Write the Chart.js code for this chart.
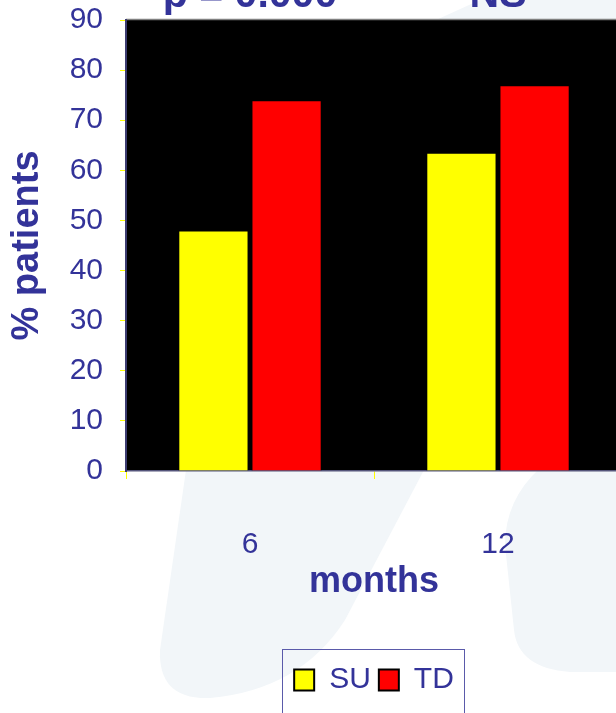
<!DOCTYPE html>
<html><head><meta charset="utf-8">
<script src="https://cdn.jsdelivr.net/npm/chart.js@4"></script>
<style>
html,body{margin:0;padding:0;background:#fff;overflow:hidden}
#wrap{width:616px;height:713px;overflow:hidden;position:relative}
canvas{display:block}
</style></head><body>
<div id="wrap"><canvas id="c" width="630" height="713" style="width:630px;height:713px"></canvas></div>
<script>
// ---- data ----
const categories = ['6', '12'];
const seriesNames = ['SU', 'TD'];
const suValues = [48, 63.5];
const tdValues = [74, 77];
const yTicks = [0, 10, 20, 30, 40, 50, 60, 70, 80, 90];
const topNotes = ['p = 0.000', 'NS'];
const xTitle = 'months';
const yTitle = '% patients';

const TEXT = '#333399';
const FONT = '"Liberation Sans", Arial, sans-serif';

const decoPlugin = {
  id: 'deco',
  beforeDraw(chart) {
    const ctx = chart.ctx, a = chart.chartArea;
    ctx.save();
    ctx.fillStyle = '#ffffff';
    ctx.fillRect(0, 0, chart.width, chart.height);
    // faint watermark shapes
    ctx.fillStyle = '#f2f6f9';
    ctx.beginPath();
    ctx.moveTo(480, 0); ctx.lineTo(640, 0); ctx.lineTo(640, 672);
    ctx.lineTo(570, 672);
    ctx.quadraticCurveTo(518, 668, 514, 630);
    ctx.lineTo(505, 545);
    ctx.quadraticCurveTo(505, 500, 540, 468);
    ctx.lineTo(436, 20);
    ctx.closePath(); ctx.fill();
    ctx.beginPath();
    ctx.moveTo(200, 300); ctx.lineTo(460, 300); ctx.lineTo(424, 470);
    ctx.lineTo(345, 620);
    ctx.quadraticCurveTo(300, 690, 210, 698);
    ctx.quadraticCurveTo(158, 700, 160, 650);
    ctx.lineTo(186, 470);
    ctx.closePath(); ctx.fill();
    // plot area
    ctx.fillStyle = '#000';
    ctx.fillRect(a.left, a.top, a.right - a.left, a.bottom - a.top);
    ctx.strokeStyle = '#808080';
    ctx.lineWidth = 1.5;
    ctx.beginPath(); ctx.moveTo(a.left, a.top - 0.5); ctx.lineTo(a.right, a.top - 0.5); ctx.stroke();
    ctx.restore();
  },
  afterDraw(chart) {
    const ctx = chart.ctx, xs = chart.scales.x;
    ctx.save();
    ctx.font = 'bold 41px ' + FONT;
    ctx.fillStyle = TEXT;
    ctx.textAlign = 'center';
    ctx.textBaseline = 'alphabetic';
    topNotes.forEach((t, i) => ctx.fillText(t, xs.getPixelForValue(i), 7));
    const hb = chart.legend.legendHitBoxes;
    if (hb && hb.length) {
      const l = hb[0].left - 12;
      const last = hb[hb.length - 1];
      const r = last.left + last.width + 10;
      ctx.strokeStyle = '#5a5aaa';
      ctx.lineWidth = 1;
      ctx.strokeRect(Math.round(l) + 0.5, Math.round(hb[0].top - 16) + 0.5, Math.round(r - l), 120);
    }
    ctx.restore();
  }
};

new Chart(document.getElementById('c'), {
  type: 'bar',
  data: {
    labels: categories,
    datasets: [
      { label: seriesNames[0], data: suValues, backgroundColor: '#ffff00', borderColor: '#000', borderWidth: 1 },
      { label: seriesNames[1], data: tdValues, backgroundColor: '#ff0000', borderColor: '#000', borderWidth: 1 }
    ]
  },
  options: {
    responsive: false,
    animation: false,
    devicePixelRatio: 1,
    layout: { padding: { top: 20, left: 0, right: 8, bottom: 8 } },
    datasets: { bar: { categoryPercentage: 0.59, barPercentage: 0.96 } },
    plugins: {
      tooltip: { enabled: false },
      legend: {
        position: 'bottom',
        fullSize: false,
        labels: {
          color: TEXT,
          font: { family: FONT, size: 30 },
          boxWidth: 20,
          boxHeight: 21,
          padding: 8,
          generateLabels(chart) {
            return chart.data.datasets.map((d, i) => ({
              text: d.label, fillStyle: d.backgroundColor, strokeStyle: '#000',
              lineWidth: 2, hidden: false, datasetIndex: i, fontColor: TEXT
            }));
          }
        }
      }
    },
    scales: {
      x: {
        grid: { display: true, drawOnChartArea: false, color: '#ffff00', tickLength: 8, offset: true },
        border: { display: true, color: '#55557a', width: 1.5 },
        ticks: { color: TEXT, font: { family: FONT, size: 30 }, padding: 48 },
        title: { display: true, text: xTitle, color: TEXT, font: { family: FONT, size: 36, weight: 'bold' }, padding: { top: 0, bottom: 53 } },
        afterFit(s) { s.height = 186; s.paddingLeft = 0; s.paddingRight = 0; }
      },
      y: {
        min: yTicks[0], max: yTicks[yTicks.length - 1],
        grid: { display: true, drawOnChartArea: false, color: '#ffff00', tickLength: 6 },
        border: { display: true, color: '#3c3c70', width: 2 },
        ticks: { stepSize: yTicks[1] - yTicks[0], color: TEXT, font: { family: FONT, size: 30 }, padding: 17 },
        title: { display: true, text: yTitle, color: TEXT, font: { family: FONT, size: 38, weight: 'bold' }, padding: { top: 5, bottom: 0 } },
        afterFit(s) { s.width = 126; s.paddingTop = 0; s.paddingBottom = 0; }
      }
    }
  },
  plugins: [decoPlugin]
});
</script>
</body></html>
